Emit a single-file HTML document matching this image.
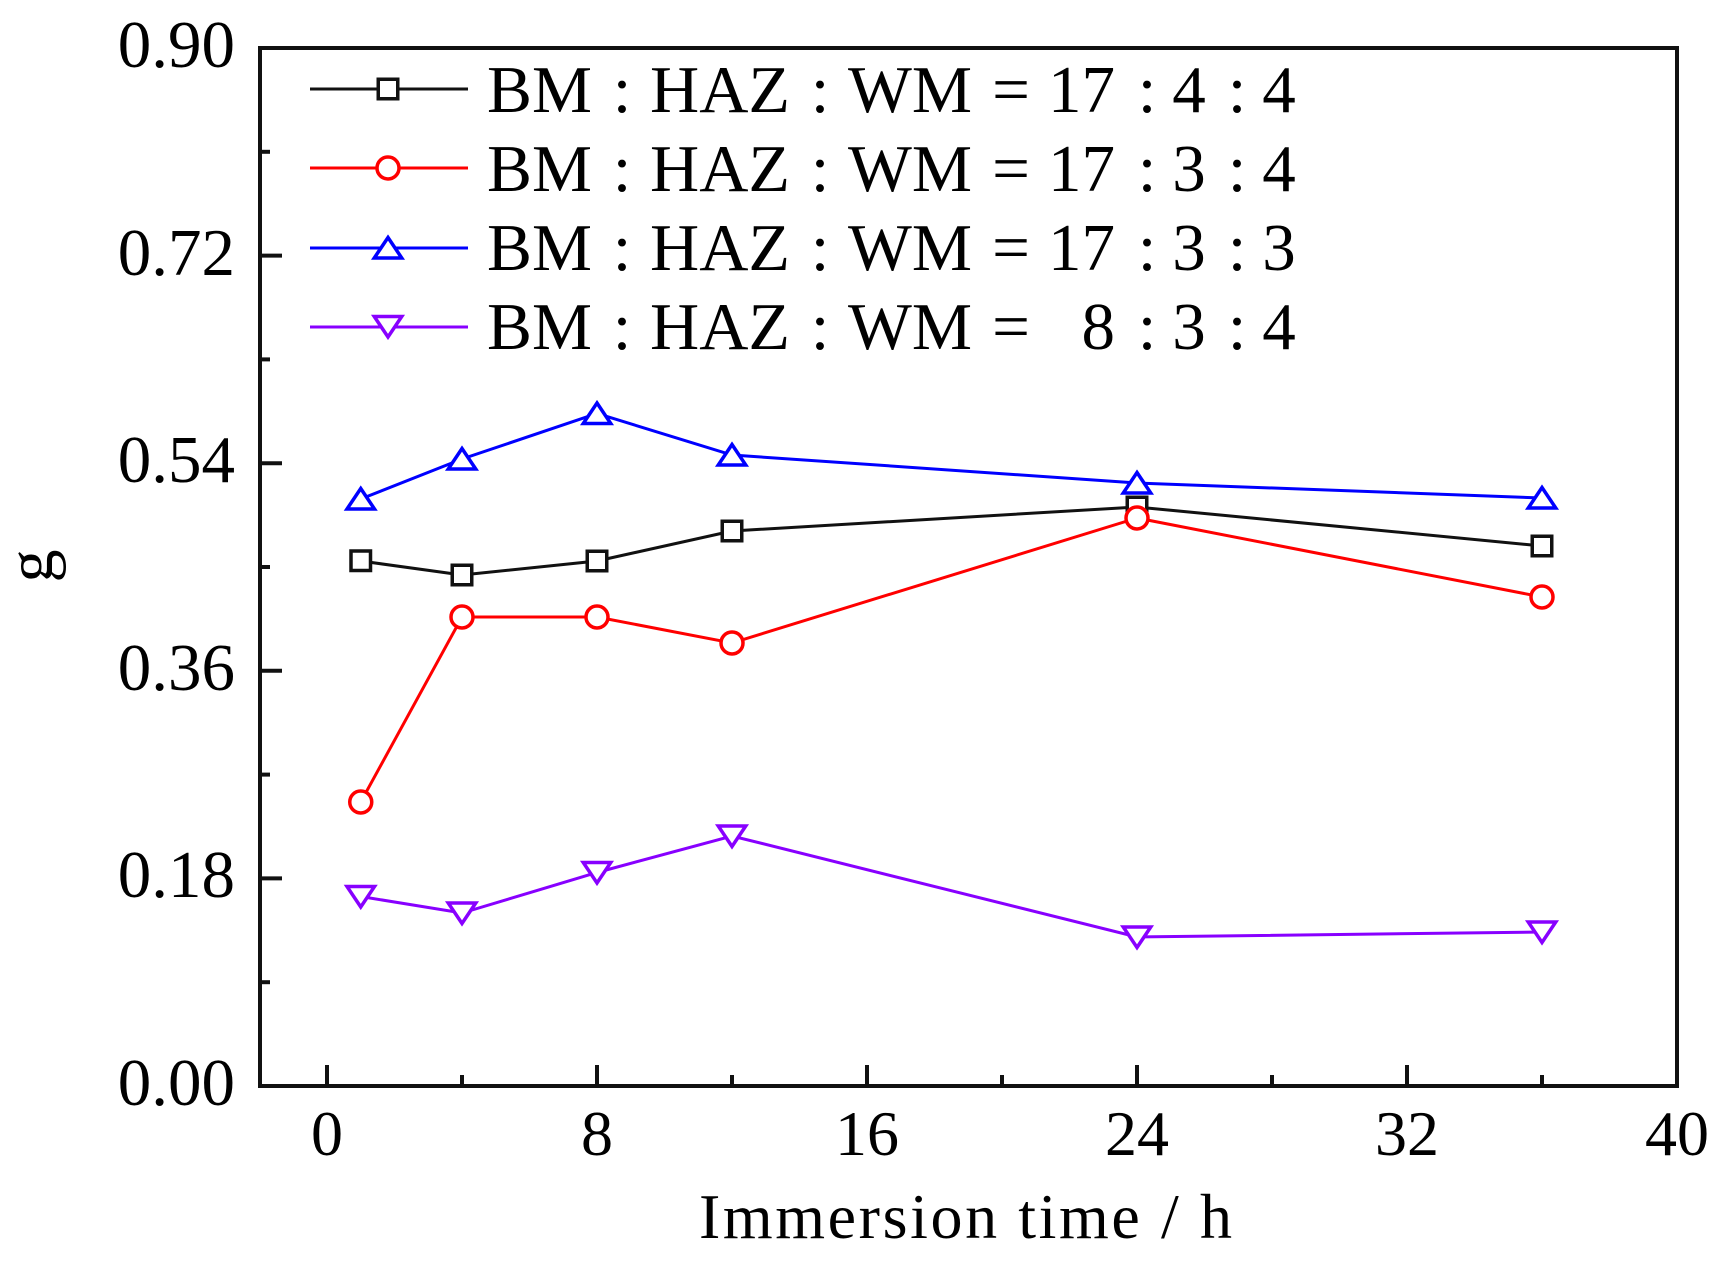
<!DOCTYPE html>
<html>
<head>
<meta charset="utf-8">
<style>
html,body{margin:0;padding:0;background:#fff;}
svg{display:block;}
text{font-family:"Liberation Serif","Times New Roman",serif;fill:#000;}
</style>
</head>
<body>
<svg width="1730" height="1266" viewBox="0 0 1730 1266" xmlns="http://www.w3.org/2000/svg">
<rect width="1730" height="1266" fill="#fff"/>

<!-- Y ticks (inward) -->
<g stroke="#111" stroke-width="4">
  <line x1="260" y1="1086" x2="282" y2="1086"/>
  <line x1="260" y1="878.4" x2="282" y2="878.4"/>
  <line x1="260" y1="670.8" x2="282" y2="670.8"/>
  <line x1="260" y1="463.2" x2="282" y2="463.2"/>
  <line x1="260" y1="255.6" x2="282" y2="255.6"/>
  <line x1="260" y1="982.2" x2="270" y2="982.2"/>
  <line x1="260" y1="774.6" x2="270" y2="774.6"/>
  <line x1="260" y1="567" x2="270" y2="567"/>
  <line x1="260" y1="359.4" x2="270" y2="359.4"/>
  <line x1="260" y1="151.8" x2="270" y2="151.8"/>
</g>
<!-- X ticks (inward) -->
<g stroke="#111" stroke-width="4">
  <line x1="327" y1="1086" x2="327" y2="1065"/>
  <line x1="597" y1="1086" x2="597" y2="1065"/>
  <line x1="867" y1="1086" x2="867" y2="1065"/>
  <line x1="1137" y1="1086" x2="1137" y2="1065"/>
  <line x1="1407" y1="1086" x2="1407" y2="1065"/>
  <line x1="462" y1="1086" x2="462" y2="1075"/>
  <line x1="732" y1="1086" x2="732" y2="1075"/>
  <line x1="1002" y1="1086" x2="1002" y2="1075"/>
  <line x1="1272" y1="1086" x2="1272" y2="1075"/>
  <line x1="1542" y1="1086" x2="1542" y2="1075"/>
</g>

<!-- Frame -->
<rect x="260" y="48" width="1417" height="1038" fill="none" stroke="#111" stroke-width="4"/>

<!-- Y tick labels -->
<g font-size="67" text-anchor="end">
  <text x="235" y="1105">0.00</text>
  <text x="235" y="897">0.18</text>
  <text x="235" y="690">0.36</text>
  <text x="235" y="482">0.54</text>
  <text x="235" y="275">0.72</text>
  <text x="235" y="67">0.90</text>
</g>
<!-- X tick labels -->
<g font-size="64" text-anchor="middle">
  <text x="327" y="1155">0</text>
  <text x="597" y="1155">8</text>
  <text x="867" y="1155">16</text>
  <text x="1137" y="1155">24</text>
  <text x="1407" y="1155">32</text>
  <text x="1677" y="1155">40</text>
</g>

<!-- Axis titles -->
<text x="699" y="1238" font-size="64" textLength="533" lengthAdjust="spacing">Immersion time / h</text>
<text x="0" y="0" font-size="66" text-anchor="middle" transform="translate(52,566) rotate(-90)">g</text>

<!-- Series: black squares -->
<polyline fill="none" stroke="#111" stroke-width="3" points="360.75,561 462,575 597,561 732,531 1137,507 1542,546"/>
<!-- red circles -->
<polyline fill="none" stroke="#ff0000" stroke-width="3" points="360.75,802 462,617 597,617 732,643 1137,518 1542,597"/>
<!-- blue up triangles -->
<polyline fill="none" stroke="#0000ff" stroke-width="3" points="360.75,499 462,459 597,413.5 732,455 1137,483 1542,498"/>
<!-- purple down triangles -->
<polyline fill="none" stroke="#8800ff" stroke-width="3" points="360.75,896.5 462,913 597,872.5 732,836 1137,937 1542,932"/>

<!-- markers -->
<g fill="#fff" stroke="#111" stroke-width="3.5">
  <rect x="351" y="551" width="19.5" height="19.5"/>
  <rect x="452.25" y="565.25" width="19.5" height="19.5"/>
  <rect x="587.25" y="551.25" width="19.5" height="19.5"/>
  <rect x="722.25" y="521.25" width="19.5" height="19.5"/>
  <rect x="1127.25" y="497.25" width="19.5" height="19.5"/>
  <rect x="1532.25" y="536.25" width="19.5" height="19.5"/>
</g>
<g fill="#fff" stroke="#ff0000" stroke-width="3.5">
  <circle cx="360.75" cy="802" r="11"/>
  <circle cx="462" cy="617" r="11"/>
  <circle cx="597" cy="617" r="11"/>
  <circle cx="732" cy="643" r="11"/>
  <circle cx="1137" cy="518" r="11"/>
  <circle cx="1542" cy="597" r="11"/>
</g>
<g fill="#fff" stroke="#0000ff" stroke-width="3.5" stroke-linejoin="miter">
  <polygon points="360.75,488.5 374.5,509 347,509"/>
  <polygon points="462,448.5 475.75,469 448.25,469"/>
  <polygon points="597,403 610.75,423.5 583.25,423.5"/>
  <polygon points="732,444.5 745.75,465 718.25,465"/>
  <polygon points="1137,472.5 1150.75,493 1123.25,493"/>
  <polygon points="1542,487.5 1555.75,508 1528.25,508"/>
</g>
<g fill="#fff" stroke="#8800ff" stroke-width="3.5" stroke-linejoin="miter">
  <polygon points="347,886.5 374.5,886.5 360.75,907"/>
  <polygon points="448.25,903 475.75,903 462,923.5"/>
  <polygon points="583.25,862.5 610.75,862.5 597,883"/>
  <polygon points="718.25,826 745.75,826 732,846.5"/>
  <polygon points="1123.25,927 1150.75,927 1137,947.5"/>
  <polygon points="1528.25,922 1555.75,922 1542,942.5"/>
</g>

<!-- Legend -->
<g stroke-width="3">
  <line x1="310" y1="89" x2="468" y2="89" stroke="#111"/>
  <line x1="310" y1="168" x2="468" y2="168" stroke="#ff0000"/>
  <line x1="310" y1="248" x2="468" y2="248" stroke="#0000ff"/>
  <line x1="310" y1="327" x2="468" y2="327" stroke="#8800ff"/>
</g>
<rect x="378.25" y="79.25" width="19.5" height="19.5" fill="#fff" stroke="#111" stroke-width="3.5"/>
<circle cx="388" cy="168" r="11" fill="#fff" stroke="#ff0000" stroke-width="3.5"/>
<polygon points="388,237.5 401.75,258 374.25,258" fill="#fff" stroke="#0000ff" stroke-width="3.5"/>
<polygon points="374.25,316.5 401.75,316.5 388,337" fill="#fff" stroke="#8800ff" stroke-width="3.5"/>

<g font-size="67">
  <!-- row 1 -->
  <text x="487" y="112" textLength="105" lengthAdjust="spacingAndGlyphs">BM</text>
  <text x="622" y="112" text-anchor="middle">:</text>
  <text x="650" y="112" textLength="140" lengthAdjust="spacingAndGlyphs">HAZ</text>
  <text x="820" y="112" text-anchor="middle">:</text>
  <text x="848" y="112" textLength="124" lengthAdjust="spacingAndGlyphs">WM</text>
  <text x="1011" y="112" text-anchor="middle">=</text>
  <text x="1115" y="112" text-anchor="end">17</text>
  <text x="1147" y="112" text-anchor="middle">:</text>
  <text x="1189" y="112" text-anchor="middle">4</text>
  <text x="1237" y="112" text-anchor="middle">:</text>
  <text x="1279" y="112" text-anchor="middle">4</text>
  <!-- row 2 -->
  <text x="487" y="191" textLength="105" lengthAdjust="spacingAndGlyphs">BM</text>
  <text x="622" y="191" text-anchor="middle">:</text>
  <text x="650" y="191" textLength="140" lengthAdjust="spacingAndGlyphs">HAZ</text>
  <text x="820" y="191" text-anchor="middle">:</text>
  <text x="848" y="191" textLength="124" lengthAdjust="spacingAndGlyphs">WM</text>
  <text x="1011" y="191" text-anchor="middle">=</text>
  <text x="1115" y="191" text-anchor="end">17</text>
  <text x="1147" y="191" text-anchor="middle">:</text>
  <text x="1189" y="191" text-anchor="middle">3</text>
  <text x="1237" y="191" text-anchor="middle">:</text>
  <text x="1279" y="191" text-anchor="middle">4</text>
  <!-- row 3 -->
  <text x="487" y="270" textLength="105" lengthAdjust="spacingAndGlyphs">BM</text>
  <text x="622" y="270" text-anchor="middle">:</text>
  <text x="650" y="270" textLength="140" lengthAdjust="spacingAndGlyphs">HAZ</text>
  <text x="820" y="270" text-anchor="middle">:</text>
  <text x="848" y="270" textLength="124" lengthAdjust="spacingAndGlyphs">WM</text>
  <text x="1011" y="270" text-anchor="middle">=</text>
  <text x="1115" y="270" text-anchor="end">17</text>
  <text x="1147" y="270" text-anchor="middle">:</text>
  <text x="1189" y="270" text-anchor="middle">3</text>
  <text x="1237" y="270" text-anchor="middle">:</text>
  <text x="1279" y="270" text-anchor="middle">3</text>
  <!-- row 4 -->
  <text x="487" y="349" textLength="105" lengthAdjust="spacingAndGlyphs">BM</text>
  <text x="622" y="349" text-anchor="middle">:</text>
  <text x="650" y="349" textLength="140" lengthAdjust="spacingAndGlyphs">HAZ</text>
  <text x="820" y="349" text-anchor="middle">:</text>
  <text x="848" y="349" textLength="124" lengthAdjust="spacingAndGlyphs">WM</text>
  <text x="1011" y="349" text-anchor="middle">=</text>
  <text x="1115" y="349" text-anchor="end">8</text>
  <text x="1147" y="349" text-anchor="middle">:</text>
  <text x="1189" y="349" text-anchor="middle">3</text>
  <text x="1237" y="349" text-anchor="middle">:</text>
  <text x="1279" y="349" text-anchor="middle">4</text>
</g>
</svg>
</body>
</html>
